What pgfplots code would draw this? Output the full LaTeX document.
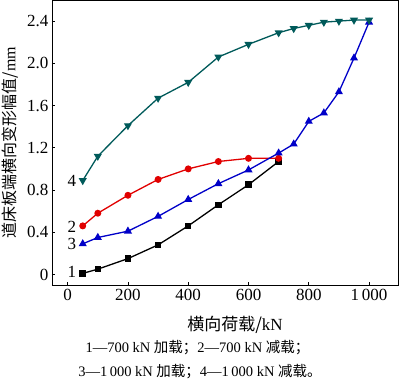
\documentclass[border=0pt]{standalone}
\usepackage{pgfplots}
\pgfplotsset{compat=1.18}
\usepackage{fontspec}
\setmainfont{Liberation Serif}
\newfontfamily\cjk{Noto Sans CJK SC}
\definecolor{cteal}{RGB}{0,90,90}
\definecolor{cred}{RGB}{225,0,0}
\definecolor{cblue}{RGB}{0,0,200}
\begin{document}
\begin{tikzpicture}[x=1pt,y=1pt]
\path[use as bounding box] (-52,-96) rectangle (348,285);
\begin{axis}[
  at={(0,0)}, anchor=south west,
  scale only axis, width=346pt, height=285pt,
  xmin=-52, xmax=1096, ymin=-0.1, ymax=2.6,
  xtick={0,200,400,600,800,1000},
  xticklabels={0,200,400,600,800,1\,000},
  ytick={0,0.4,0.8,1.2,1.6,2.0,2.4},
  yticklabels={0,0.4,0.8,1.2,1.6,2.0,2.4},
  tick pos=left, tick align=inside,
  major tick length=3pt,
  ticklabel style={font=\fontsize{17}{19}\selectfont},
  xticklabel style={yshift=-1pt},
  axis line style={line width=0.8pt},
  every tick/.style={black, line width=0.6pt},
  xlabel={\cjk\fontsize{17}{19}\selectfont 横向荷载/\rmfamily kN},
  ylabel={\cjk\fontsize{16}{18}\selectfont 道床板端横向变形幅值/\rmfamily mm},
  xlabel style={at={(axis description cs:0.529,-0.14)}, anchor=center},
  ylabel style={at={(axis description cs:-0.121,0.5)}, anchor=center},
  clip=false,
]
\addplot[black, line width=1.3pt, mark=square*, mark size=2.6pt] coordinates {
(50,0.01)(100,0.05)(200,0.15)(300,0.28)(400,0.46)(500,0.66)(600,0.85)(700,1.07)};
\addplot[cred, line width=1.3pt, mark=*, mark size=2.8pt] coordinates {
(50,0.46)(100,0.58)(200,0.75)(300,0.90)(400,1.00)(500,1.07)(600,1.10)(700,1.10)};
\addplot[cblue, line width=1.3pt, mark=triangle*, mark size=3.4pt] coordinates {
(50,0.29)(100,0.35)(200,0.41)(300,0.55)(400,0.71)(500,0.86)(600,0.99)(700,1.15)(750,1.235)(800,1.45)(850,1.53)(900,1.73)(950,2.05)(1000,2.39)};
\addplot[cteal, line width=1.3pt, mark=triangle*, mark options={rotate=180}, mark size=3.4pt] coordinates {
(50,0.89)(100,1.12)(200,1.41)(300,1.67)(400,1.82)(500,2.06)(600,2.18)(700,2.29)(750,2.33)(800,2.36)(850,2.39)(900,2.40)(950,2.41)(1000,2.41)};
\node[font=\fontsize{17}{19}\selectfont] at (axis cs:14,0.025) {1};
\node[font=\fontsize{17}{19}\selectfont] at (axis cs:14,0.45) {2};
\node[font=\fontsize{17}{19}\selectfont] at (axis cs:14,0.285) {3};
\node[font=\fontsize{17}{19}\selectfont] at (axis cs:14,0.887) {4};
\end{axis}
\node[font=\fontsize{14.5}{16}\selectfont] at (145.5,-63) {1—700 kN \cjk 加载；\rmfamily 2—700 kN \cjk 减载；};
\node[font=\fontsize{14.5}{16}\selectfont] at (148,-87) {3—1\,000 kN \cjk 加载；\rmfamily 4—1\,000 kN \cjk 减载。};
\end{tikzpicture}
\end{document}
